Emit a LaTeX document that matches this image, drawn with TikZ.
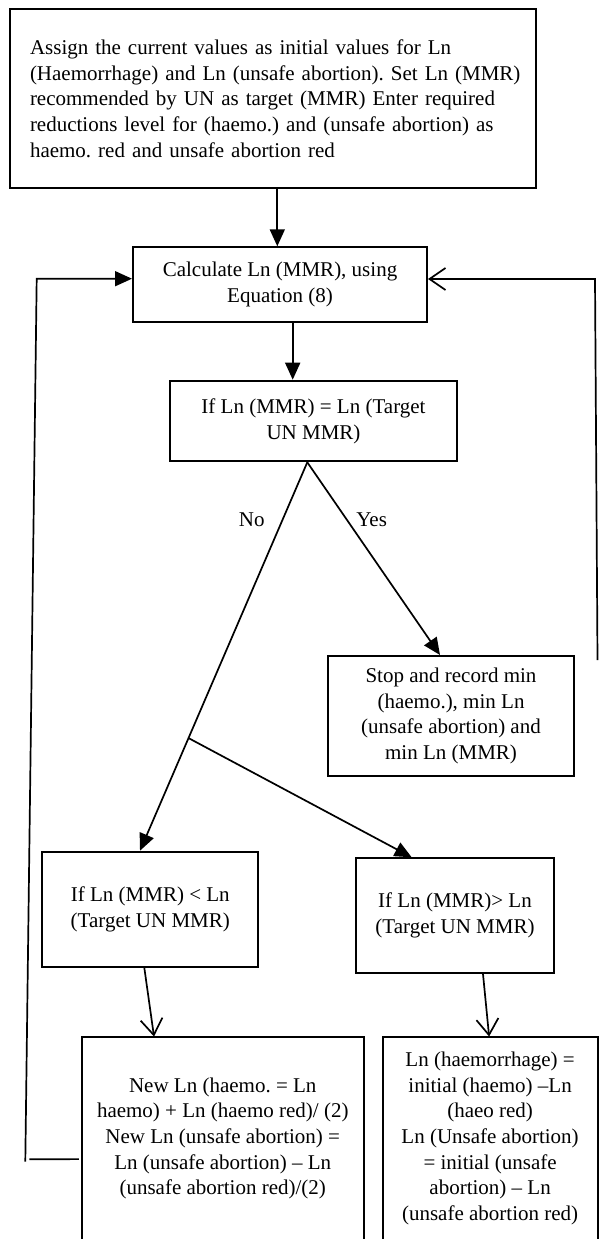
\documentclass[tikz,border=0pt]{standalone}
\usepackage{fontspec}
\setmainfont{Liberation Serif}
\usetikzlibrary{arrows.meta,calc}
\begin{document}
\begin{tikzpicture}[x=1pt,y=-1pt,
  boxline/.style={line width=2pt},
  txt/.style={align=center, inner sep=0pt, font=\fontsize{21}{25.7}\selectfont\frenchspacing},
  box/.style={txt, draw, boxline},
  lbl/.style={inner sep=0pt, font=\fontsize{21}{25.7}\selectfont},
  conn/.style={line width=1.7pt},
  farr/.style={conn, -{Triangle[length=17pt,width=15pt]}},
  oarr/.style={conn, -{Straight Barb[length=16pt,width=22pt,line width=1.7pt]}}]
\useasboundingbox (0,0) rectangle (599,1239);

\node[box, align=left, text width=486pt, inner xsep=20pt, minimum width=526pt, minimum height=178.5pt] (init) at (273,98.75)
  {\mbox{Assign the current values as initial values for Ln}\\\mbox{(Haemorrhage) and Ln (unsafe abortion). Set Ln (MMR)}\\\mbox{recommended by UN as target (MMR) Enter required}\\\mbox{reductions level for (haemo.) and (unsafe abortion) as}\\\mbox{haemo. red and unsafe abortion red}};
\node[box, minimum width=294pt, minimum height=74.4pt] (calcbox) at (280,284.5)
  {Calculate Ln (MMR), using\\Equation (8)};
\node[box, minimum width=287pt, minimum height=80.6pt] (dec) at (313.5,421)
  {If Ln (MMR) = Ln (Target\\UN MMR)};
\node[box, minimum width=246.6pt, minimum height=119.7pt] (stop) at (451,715.85)
  {Stop and record min\\(haemo.), min Ln\\(unsafe abortion) and\\min Ln (MMR)};
\node[box, minimum width=216pt, minimum height=115pt] (lt) at (150.3,909.2)
  {If Ln (MMR) < Ln\\(Target UN MMR)};
\node[box, minimum width=198pt, minimum height=114.7pt] (gt) at (455,915.65)
  {If Ln (MMR)> Ln\\(Target UN MMR)};
\node[txt, minimum width=281.5pt, minimum height=203.3pt] (bl) at (222.75,1138.35)
  {New Ln (haemo. = Ln\\haemo) + Ln (haemo red)/ (2)\\New Ln (unsafe abortion) =\\Ln (unsafe abortion) – Ln\\(unsafe abortion red)/(2)};
\node[txt, minimum width=214.8pt, minimum height=203.3pt] (br) at (490.1,1138.35)
  {Ln (haemorrhage) =\\initial (haemo) –Ln\\(haeo red)\\Ln (Unsafe abortion)\\= initial (unsafe\\abortion) – Ln\\(unsafe abortion red)};
\draw[boxline] (bl.south west) -- (bl.north west) -- (bl.north east) -- (bl.south east);
\draw[boxline] (br.south west) -- (br.north west) -- (br.north east) -- (br.south east);

\node[lbl] (no) at (251.7,520) {No};
\node[lbl] (yes) at (371.7,520) {Yes};

% main flow
\draw[farr] ($(calcbox.south)+(12.7,0)$) -- ($(dec.north)+(-20.8,0)$);
\coordinate (d0) at ($(dec.south)+(-6.2,0)$);
\coordinate (ltin) at ($(lt.north)+(-10.3,0)$);
\draw[farr] (d0) -- ($(stop.north)+(-11,0)$);
\draw[farr] (d0) -- (ltin);
\coordinate (split) at ($(d0)!0.71!(ltin)$);
\draw[farr] (split) -- ($(gt.north)+(-43.3,0)$);
\draw[oarr] ($(lt.south)+(-6,0)$) -- ($(bl.north)+(-68.75,0)$);
\draw[oarr] ($(gt.south)+(28,0)$) -- ($(br.north)+(-1,0)$);

% left loop
\coordinate (lbot) at (25.3,1161.7);
\coordinate (ltop) at (36.7,278.7);
\coordinate (lstub) at (29.3,1159.3);
\draw[farr] (lbot) -- (ltop) -- ($(calcbox.west)+(0,-5.8)$);
\draw[conn] ($(bl.north west)+(-3,122.6)$) -- (lstub);

% right loop
\coordinate (rbot) at (597.5,660);
\coordinate (rtop) at (595,279);
\coordinate (rstub) at (601,1163.3);
\draw[oarr] (rbot) -- (rtop) -- ($(calcbox.east)+(0,-5.5)$);
\draw[conn] ($(br.north east)+(0,126.6)$) -- (rstub);

% entry arrow
\coordinate (a1s) at ($(init.south)+(4.3,0)$);
\coordinate (a1e) at (a1s |- calcbox.north);
\draw[line width=1.7pt, -{Triangle[length=17pt,width=15pt]}] (a1s) -- (a1e);
\end{tikzpicture}
\end{document}
